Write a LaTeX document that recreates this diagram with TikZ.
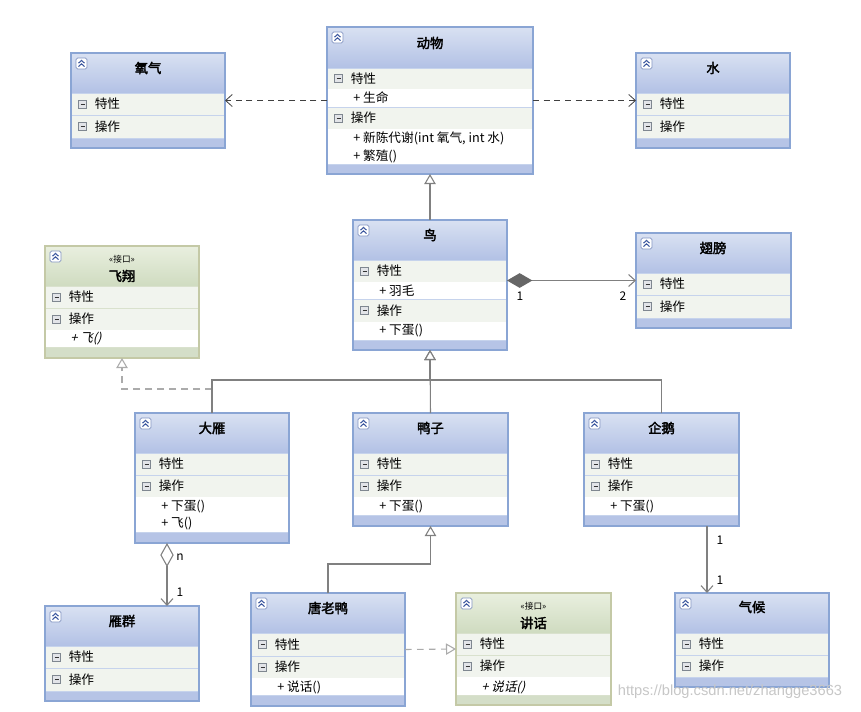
\documentclass[tikz,border=0pt]{standalone}
\usepackage{fontspec}
\setmainfont{Noto Sans CJK SC}[AutoFakeBold=2.5]
\newfontfamily\cjkit{Noto Sans CJK SC}[FakeSlant=0.25]
\newfontfamily\wmfont{Liberation Sans}
\usetikzlibrary{arrows.meta,fit,calc}

\definecolor{clsTop}{HTML}{D9E1F2}
\definecolor{clsBot}{HTML}{B2C1E5}
\definecolor{clsBorder}{HTML}{8AA5D4}
\definecolor{clsBand}{HTML}{B6C4E6}
\definecolor{clsSep}{HTML}{C6D3EC}
\definecolor{ifcTop}{HTML}{E9EFDF}
\definecolor{ifcBot}{HTML}{CFDBC0}
\definecolor{ifcBorder}{HTML}{C4C9A6}
\definecolor{ifcBand}{HTML}{D4DEC8}
\definecolor{ifcSep}{HTML}{D9E1CD}
\definecolor{rowFill}{HTML}{F1F4EE}
\definecolor{iconBlue}{HTML}{3F5AA0}
\definecolor{minusBorder}{HTML}{7F8790}
\definecolor{minusFill}{HTML}{E2E4E8}

% background of a box: white body and title gradient
\newcommand\umlbg[6]{%
  \fill[white] (#1,#2) rectangle (#3,#4);
  \shade[top color=#6Top, bottom color=#6Bot] (#1,#2) rectangle (#3,#5);
}
% compartment header row
\newcommand\umlcomp[7]{%
  \fill[rowFill] (#2,#4) rectangle (#3,#5);
  \draw[#7Sep, line width=0.6pt] (#2,#4) -- (#3,#4);
  \draw[minusBorder, fill=minusFill, line width=0.55pt] ({#2+7.5},{(#4+#5)/2-4}) rectangle ({#2+15.5},{(#4+#5)/2+4});
  \draw[black!80, line width=0.75pt] ({#2+9.5},{(#4+#5)/2}) -- ({#2+13.5},{(#4+#5)/2});
  \node[rowtext] (#1) at ({#2+23.5},{(#4+#5)/2}) {#6};
}
% bottom band
\newcommand\umlband[5]{%
  \fill[#5Band] (#1,#3) rectangle (#2,#4);
  \draw[#5Sep, line width=0.6pt] (#1,#3) -- (#2,#3);
}
% frame node, border and collapse icon
\newcommand\umlend[6]{%
  \node[fit={(#2,#3) (#4,#5)}, inner sep=0pt, outer sep=0pt, draw=#6Border, line width=0.9pt] (#1) {};
  \draw[iconBlue!65, fill=white, rounded corners=1.2pt, line width=0.6pt] ({#2+5},{#3+5}) rectangle ({#2+16},{#3+16});
  \draw[iconBlue, line width=0.8pt] ({#2+7.5},{#3+10.2}) -- ({#2+10.5},{#3+7.4}) -- ({#2+13.5},{#3+10.2})
        ({#2+7.5},{#3+13.6}) -- ({#2+10.5},{#3+10.8}) -- ({#2+13.5},{#3+13.6});
}

\tikzset{
  rowtext/.style={anchor=west, inner sep=0pt, font=\fontsize{9.5}{11}\selectfont},
  itemtext/.style={anchor=west, inner sep=0pt, font=\fontsize{9.5}{11}\selectfont},
  titletext/.style={inner sep=0pt, font=\fontsize{10}{12}\selectfont\bfseries},
  stereo/.style={inner sep=0pt, font=\fontsize{6.5}{8}\selectfont},
  mult/.style={inner sep=0pt, font=\fontsize{9}{11}\selectfont},
  dep/.style={draw=black!75, line width=0.6pt, dash pattern=on 4.5pt off 3.5pt,
    -{Straight Barb[length=5pt,width=9pt]}},
  gen/.style={draw=black!50, line width=0.8pt,
    -{Triangle[open, fill=white, length=7.5pt, width=8.5pt]}},
  real/.style={draw=black!33, line width=0.8pt, dash pattern=on 5pt off 4pt,
    -{Triangle[open, fill=white, length=7.5pt, width=8.5pt]}},
  assoc/.style={draw=black!50, line width=0.8pt,
    -{Straight Barb[length=5pt,width=9pt]}},
  watermark/.style={inner sep=0pt, text=black!22, font=\wmfont\fontsize{11}{13}\selectfont},
}

\begin{document}
\begin{tikzpicture}[x=0.75pt,y=-0.75pt]
\fill[white] (0,0) rectangle (861,711);
\useasboundingbox (0,0) rectangle (861,711);

% ---------------- 氧气
\umlbg{71}{53}{225}{148}{93}{cls}
\node[titletext] (yangqi-t) at (148,68) {氧气};
\umlcomp{yangqi-a}{71}{225}{93}{115}{特性}{cls}
\umlcomp{yangqi-o}{71}{225}{115}{138}{操作}{cls}
\umlband{71}{225}{138}{148}{cls}
\umlend{yangqi}{71}{53}{225}{148}{cls}

% ---------------- 动物
\umlbg{327}{27}{533}{174}{68}{cls}
\node[titletext] (dongwu-t) at (430,43) {动物};
\umlcomp{dongwu-a}{327}{533}{68}{89}{特性}{cls}
\node[itemtext] (dongwu-i1) at (353,98) {+ 生命};
\umlcomp{dongwu-o}{327}{533}{107}{129}{操作}{cls}
\node[itemtext] (dongwu-i2) at (353,138) {+ 新陈代谢(int 氧气, int 水)};
\node[itemtext] (dongwu-i3) at (353,156) {+ 繁殖()};
\umlband{327}{533}{164}{174}{cls}
\umlend{dongwu}{327}{27}{533}{174}{cls}

% ---------------- 水
\umlbg{636}{53}{790}{148}{93}{cls}
\node[titletext] (shui-t) at (713,68) {水};
\umlcomp{shui-a}{636}{790}{93}{115}{特性}{cls}
\umlcomp{shui-o}{636}{790}{115}{138}{操作}{cls}
\umlband{636}{790}{138}{148}{cls}
\umlend{shui}{636}{53}{790}{148}{cls}

% ---------------- 飞翔 (interface)
\umlbg{45}{246}{199}{358}{286}{ifc}
\node[stereo] (feixiang-s) at (122,259) {«接口»};
\node[titletext] (feixiang-t) at (122,276) {飞翔};
\umlcomp{feixiang-a}{45}{199}{286}{308}{特性}{ifc}
\umlcomp{feixiang-o}{45}{199}{308}{330}{操作}{ifc}
\node[itemtext] (feixiang-i1) at (70,339) {\cjkit + 飞()};
\umlband{45}{199}{347}{358}{ifc}
\umlend{feixiang}{45}{246}{199}{358}{ifc}

% ---------------- 鸟
\umlbg{353}{220}{507}{350}{260}{cls}
\node[titletext] (niao-t) at (430,235) {鸟};
\umlcomp{niao-a}{353}{507}{260}{282}{特性}{cls}
\node[itemtext] (niao-i1) at (379,291) {+ 羽毛};
\umlcomp{niao-o}{353}{507}{299}{322}{操作}{cls}
\node[itemtext] (niao-i2) at (379,331) {+ 下蛋()};
\umlband{353}{507}{340}{350}{cls}
\umlend{niao}{353}{220}{507}{350}{cls}

% ---------------- 翅膀
\umlbg{636}{233}{791}{328}{273}{cls}
\node[titletext] (chibang-t) at (713,248) {翅膀};
\umlcomp{chibang-a}{636}{791}{273}{295}{特性}{cls}
\umlcomp{chibang-o}{636}{791}{295}{318}{操作}{cls}
\umlband{636}{791}{318}{328}{cls}
\umlend{chibang}{636}{233}{791}{328}{cls}

% ---------------- 大雁
\umlbg{135}{413}{289}{543}{453}{cls}
\node[titletext] (dayan-t) at (212,428) {大雁};
\umlcomp{dayan-a}{135}{289}{453}{475}{特性}{cls}
\umlcomp{dayan-o}{135}{289}{475}{497}{操作}{cls}
\node[itemtext] (dayan-i1) at (161,507) {+ 下蛋()};
\node[itemtext] (dayan-i2) at (161,524) {+ 飞()};
\umlband{135}{289}{532}{543}{cls}
\umlend{dayan}{135}{413}{289}{543}{cls}

% ---------------- 鸭子
\umlbg{353}{413}{508}{526}{453}{cls}
\node[titletext] (yazi-t) at (430.5,428) {鸭子};
\umlcomp{yazi-a}{353}{508}{453}{475}{特性}{cls}
\umlcomp{yazi-o}{353}{508}{475}{497}{操作}{cls}
\node[itemtext] (yazi-i1) at (379,507) {+ 下蛋()};
\umlband{353}{508}{515}{526}{cls}
\umlend{yazi}{353}{413}{508}{526}{cls}

% ---------------- 企鹅
\umlbg{584}{413}{739}{526}{453}{cls}
\node[titletext] (qie-t) at (661.5,428) {企鹅};
\umlcomp{qie-a}{584}{739}{453}{475}{特性}{cls}
\umlcomp{qie-o}{584}{739}{475}{497}{操作}{cls}
\node[itemtext] (qie-i1) at (610,507) {+ 下蛋()};
\umlband{584}{739}{515}{526}{cls}
\umlend{qie}{584}{413}{739}{526}{cls}

% ---------------- 雁群
\umlbg{45}{606}{199}{701}{646}{cls}
\node[titletext] (yanqun-t) at (122,621) {雁群};
\umlcomp{yanqun-a}{45}{199}{646}{668}{特性}{cls}
\umlcomp{yanqun-o}{45}{199}{668}{691}{操作}{cls}
\umlband{45}{199}{691}{701}{cls}
\umlend{yanqun}{45}{606}{199}{701}{cls}

% ---------------- 唐老鸭
\umlbg{251}{593}{405}{706}{633}{cls}
\node[titletext] (tly-t) at (328,608) {唐老鸭};
\umlcomp{tly-a}{251}{405}{633}{656}{特性}{cls}
\umlcomp{tly-o}{251}{405}{656}{678}{操作}{cls}
\node[itemtext] (tly-i1) at (277,687) {+ 说话()};
\umlband{251}{405}{695}{706}{cls}
\umlend{tanglaoya}{251}{593}{405}{706}{cls}

% ---------------- 讲话 (interface)
\umlbg{456}{593}{611}{705}{633}{ifc}
\node[stereo] (jianghua-s) at (533.5,606) {«接口»};
\node[titletext] (jianghua-t) at (533.5,623) {讲话};
\umlcomp{jianghua-a}{456}{611}{633}{655}{特性}{ifc}
\umlcomp{jianghua-o}{456}{611}{655}{677}{操作}{ifc}
\node[itemtext] (jianghua-i1) at (481,687) {\cjkit + 说话()};
\umlband{456}{611}{695}{705}{ifc}
\umlend{jianghua}{456}{593}{611}{705}{ifc}

% ---------------- 气候
\umlbg{675}{593}{829}{687}{633}{cls}
\node[titletext] (qihou-t) at (752,607) {气候};
\umlcomp{qihou-a}{675}{829}{633}{655}{特性}{cls}
\umlcomp{qihou-o}{675}{829}{655}{677}{操作}{cls}
\umlband{675}{829}{677}{687}{cls}
\umlend{qihou}{675}{593}{829}{687}{cls}

% ---------------- connectors
\draw[dep] (dongwu.west) -- (yangqi.east);
\draw[dep] (dongwu.east) -- (shui.west);
\draw[gen] (niao.north) -- (dongwu.south);

\draw[assoc, {Diamond[length=19pt, width=11pt, fill=black!60, black!60]}-{Straight Barb[length=5pt,width=9pt]}]
  (niao.east |- chibang.west) -- (chibang.west);
\node[mult] (comp-m1) at (520,296) {1};
\node[mult] (comp-m2) at (623,296) {2};

% realization 大雁 -> 飞翔
\coordinate (realbus) at (212,389);
\draw[real] (dayan.north) -- (realbus) -| (feixiang.south);

% generalization tree to 鸟
\coordinate (genbus) at (430,380);
\draw[gen] (dayan.north) |- (genbus) -- (niao.south);
\draw[gen] (qie.north) |- (genbus) -- (niao.south);
\draw[gen] (yazi.north) -- (niao.south);

% aggregation 大雁 <>- 雁群
\draw[assoc, {Diamond[open, fill=white, length=18pt, width=10pt]}-{Straight Barb[length=5pt,width=9pt]}]
  ($(dayan.south west)+(32,0)$) -- ($(yanqun.north west)+(122,0)$);
\node[mult] (agg-n) at (180,557) {n};
\node[mult] (agg-1) at (180,592) {1};

% 唐老鸭 -> 鸭子
\coordinate (tlybus) at ($(yazi.south)+(0,38)$);
\draw[gen] (tanglaoya.north) |- (tlybus) -- (yazi.south);
\draw[real] (tanglaoya.east) -- (jianghua.west);

% 企鹅 -> 气候
\draw[assoc] ($(qie.south east)+(-32,0)$) -- ($(qihou.north west)+(32,0)$);
\node[mult] (qh-m1) at (720,540) {1};
\node[mult] (qh-m2) at (720,580) {1};

% watermark
\node[watermark] (wm) at (730,692) {https://blog.csdn.net/zhangge3663};
\end{tikzpicture}
\end{document}
